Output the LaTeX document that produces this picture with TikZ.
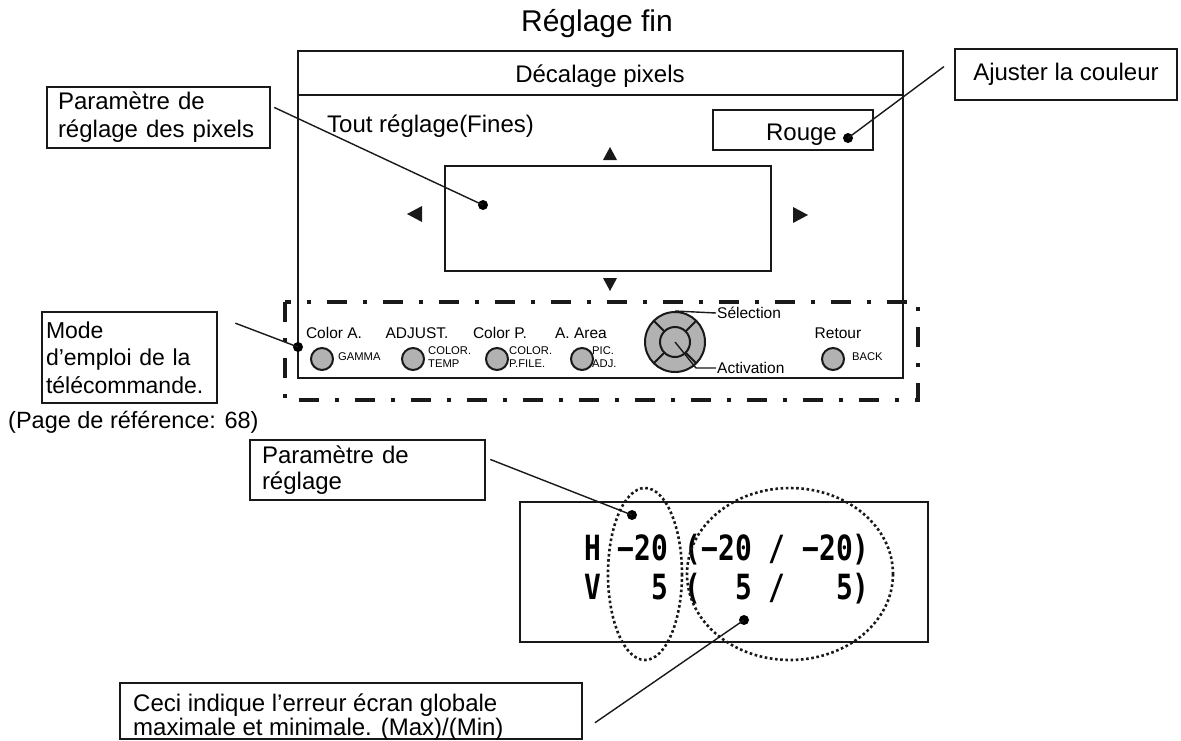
\documentclass[tikz,border=0pt]{standalone}
\usepackage{fontspec}
\setmainfont{Liberation Sans}
\newfontfamily\lcdfont{DejaVu Sans Mono}
\usetikzlibrary{positioning}
\definecolor{btnGray}{RGB}{178, 178, 178}
\definecolor{inkDark}{RGB}{25, 25, 25}
\tikzset{
  Ttl/.style    = {font={\fontsize{30}{34}\selectfont}, inner sep=0pt},
  Txt/.style    = {font={\fontsize{24}{28}\selectfont}, inner sep=0pt},
  Note/.style   = {draw=inkDark, line width=1.2pt, font={\fontsize{24}{28}\selectfont},
                   align=left, inner ysep=0pt},
  Small/.style  = {font={\fontsize{15.5}{17}\selectfont}, inner sep=1pt},
  Tiny/.style   = {font={\fontsize{11.2}{12.5}\selectfont}, inner sep=0pt, align=left},
  Frame/.style  = {draw=inkDark, line width=1.8pt},
  Heavy/.style  = {draw=inkDark, line width=2.6pt},
  DashDot/.style= {draw=inkDark, line width=4.5pt, dash pattern=on 20pt off 16pt on 4pt off 16pt},
  Dots/.style   = {draw=inkDark, line width=2.6pt, dash pattern=on 2.6pt off 2.6pt},
  Lead/.style   = {draw=inkDark, line width=1.4pt},
  Dot/.style    = {circle, fill=black, minimum size=10pt, inner sep=0pt},
  Btn/.style    = {circle, draw=inkDark, line width=2pt, fill=btnGray, inner sep=0pt},
  Lcd/.style    = {font={\lcdfont\bfseries\fontsize{31}{36}\selectfont}, inner sep=0pt},
}
\newcommand{\lcdrow}[1]{\scalebox{0.9}[1.12]{#1}}

\begin{document}
\begin{tikzpicture}[x=1pt, y=-1pt]
\useasboundingbox[fill=white] (0,0) rectangle (1181,740);

% ======================= SCREEN ==========================================
\node[Ttl, anchor=base] (title) at (597,31) {Réglage fin};
\draw[Frame] (298,51) rectangle (903,378);
\draw[Frame] (298,95) -- (903,95);
\node[Txt, anchor=base] (menu) at (600,82) {Décalage pixels};
\node[Txt, anchor=base west] (allAdj) at (327,132) {Tout réglage(Fines)};
\draw[Heavy] (713,110) rectangle (873,150);
\node[Txt, anchor=base east] (rouge) at (837,140) {Rouge};
\draw[Heavy] (445,166) rectangle (771,271);
% cursor marks round the pattern
\fill[inkDark] (610,147) -- (617,160) -- (603,160) -- cycle;
\fill[inkDark] (610,291) -- (617,278) -- (603,278) -- cycle;
\fill[inkDark] (407,214) -- (422,206) -- (422,222) -- cycle;
\fill[inkDark] (808,215) -- (793,207) -- (793,223) -- cycle;

% ======================= REMOTE PANEL ====================================
\draw[DashDot] (285,302) rectangle (918,400);
\foreach \bx/\tx/\cx/\lab/\cap [count=\i] in
    {322/334/338/{Color A.}/{GAMMA},
     413/417/428/{ADJUST.}/{COLOR.\\TEMP},
     497/500/509/{Color P.}/{COLOR.\\P.FILE.},
     582/581/592/{A. Area}/{PIC.\\ADJ.},
     833/838/852/{Retour}/{BACK}} {
  \node[Small] (lab\i) at (\tx,333) {\lab};
  \node[Btn, minimum size=22] (btn\i) at (\bx,359) {};
  \node[Tiny, anchor=west] (cap\i) at (\cx,357) {\cap};
}
% select / enter dial
\node[Btn, minimum size=60] (dial) at (675,342) {};
\node[Btn, minimum size=30] (dialIn) at (675,342) {};
\foreach \a in {45,135,225,315}
  \draw[draw=inkDark, line width=1.8pt] (dial.center) ++(\a:15) -- ++(\a:15);
\node[Small, anchor=west] (sel) at (716,313) {Sélection};
\node[Small, anchor=west] (act) at (716,368) {Activation};
\draw[Lead] (dial.north) -- (sel.west);
\draw[Lead] (dial.center) -- ([xshift=-20pt]act.west) -- (act.west);

% ======================= CALLOUTS ========================================
\node[Note, minimum width=223, minimum height=61, text width=201, inner xsep=11pt]
  (ppx) at (158.5,117.5) {Paramètre de\\réglage des pixels};
\node[Dot] (dPpx) at (483,205) {};
\draw[Lead, shorten <=4pt] (ppx.6) -- (dPpx.center);

\node[Note, minimum width=222, minimum height=51, align=center] (colour) at (1066,74.5)
  {Ajuster la couleur};
\node[Dot] (dRouge) at (848,138) {};
\draw[Lead, shorten <=13pt] (colour.172) -- (dRouge.center);

\node[Note, minimum width=175, minimum height=91, text width=167, inner xsep=4pt,
      font={\fontsize{23}{27.5}\selectfont}]
  (remote) at (129.5,357.5) {Mode\\d’emploi de la\\télécommande.};
\node[Dot] (dPanel) at (298,347) {};
\draw[Lead, shorten <=19pt] (remote.25) -- (dPanel.center);
\node[Txt, anchor=base west, font={\fontsize{23.5}{27.5}\selectfont}]
  (pageRef) at (8,428) {(Page de référence: 68)};

% ======================= READOUT =========================================
\node[Note, minimum width=235, minimum height=60, text width=211, inner xsep=12pt,
      font={\fontsize{24}{26.5}\selectfont}]
  (param) at (367.5,470) {Paramètre de\\réglage};
\draw[Frame] (520,502) rectangle (928,642);
\node[Lcd, anchor=base west] (rowH) at (584,560) {\lcdrow{H~−20~(−20~/~−20)}};
\node[Lcd, anchor=base west] (rowV) at (584,599) {\lcdrow{V~~~5~(~~5~/~~~5)}};
\draw[Dots] (645,574) ellipse [x radius=37, y radius=86];
\draw[Dots] (790,574) ellipse [x radius=103, y radius=86];
\node[Dot] (dLeft)  at (632,515) {};
\node[Dot] (dRight) at (744,620) {};
\draw[Lead, shorten <=5pt] (param.6) -- (dLeft.center);

\node[Note, minimum width=462, minimum height=56] (error) at (351,711) {};
\node[Txt, anchor=base west, align=left, font={\fontsize{24}{24}\selectfont}]
  (errorTxt) at (133,735) {Ceci indique l’erreur écran globale\\maximale et minimale. (Max)/(Min)};
\draw[Lead, shorten <=15pt] (error.-5) -- (dRight.center);

\end{tikzpicture}
\end{document}
